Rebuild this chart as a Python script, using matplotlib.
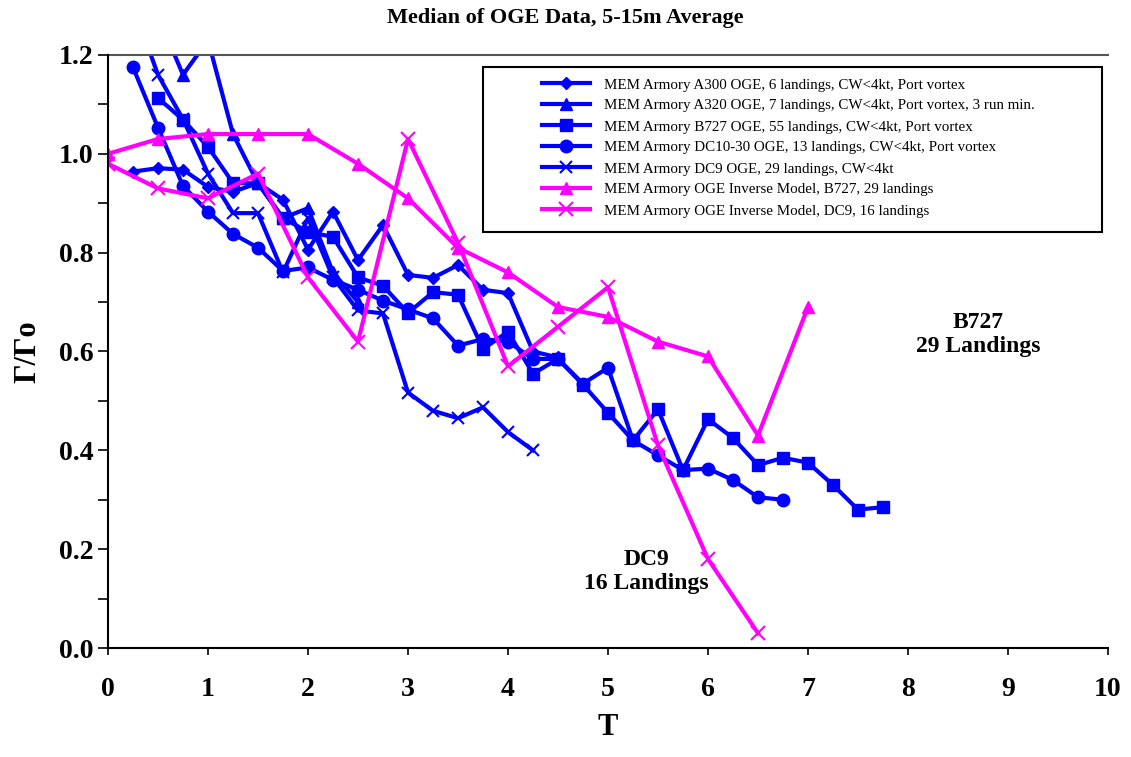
import matplotlib
matplotlib.use("Agg")
import matplotlib.pyplot as plt
from matplotlib.ticker import MultipleLocator
from matplotlib.patches import Rectangle

plt.rcParams['font.family'] = ['Liberation Serif', 'DejaVu Serif']

a300_x = [0.25,0.5,0.75,1.0,1.25,1.5,1.75,2.0,2.25,2.5,2.75,3.0,3.25,3.5,3.75,4.0,4.25,4.5]
a300_y = [0.964,0.971,0.968,0.933,0.923,0.941,0.907,0.806,0.883,0.785,0.856,0.755,0.749,0.775,0.725,0.718,0.60,0.588]
a320_x = [0.25,0.5,0.75,1.0,1.25,1.5,1.75,2.0,2.25,2.5]
a320_y = [1.35,1.28,1.16,1.23,1.04,0.94,0.87,0.89,0.76,0.70]
b727_x = [0.5,0.75,1.0,1.25,1.5,1.75,2.0,2.25,2.5,2.75,3.0,3.25,3.5,3.75,4.0,4.25,4.5,4.75,5.0,5.25,5.5,5.75,6.0,6.25,6.5,6.75,7.0,7.25,7.5,7.75]
b727_y = [1.113,1.069,1.014,0.941,0.94,0.870,0.842,0.832,0.75,0.733,0.678,0.72,0.715,0.605,0.64,0.555,0.585,0.533,0.476,0.42,0.483,0.36,0.463,0.425,0.37,0.385,0.375,0.33,0.28,0.285]
dc10_x = [0.25,0.5,0.75,1.0,1.25,1.5,1.75,2.0,2.25,2.5,2.75,3.0,3.25,3.5,3.75,4.0,4.25,4.5,4.75,5.0,5.25,5.5,5.75,6.0,6.25,6.5,6.75]
dc10_y = [1.175,1.053,0.935,0.883,0.838,0.81,0.763,0.77,0.745,0.725,0.703,0.685,0.667,0.612,0.625,0.62,0.585,0.585,0.535,0.567,0.42,0.39,0.36,0.363,0.34,0.305,0.30]
dc9_x = [0.25,0.5,0.75,1.0,1.25,1.5,1.75,2.0,2.25,2.5,2.75,3.0,3.25,3.5,3.75,4.0,4.25]
dc9_y = [1.3,1.16,1.07,0.96,0.88,0.88,0.76,0.87,0.75,0.683,0.677,0.517,0.48,0.465,0.487,0.437,0.40]
invb_x = [0,0.5,1.0,1.5,2.0,2.5,3.0,3.5,4.0,4.5,5.0,5.5,6.0,6.5,7.0]
invb_y = [1.0,1.03,1.04,1.04,1.04,0.98,0.91,0.81,0.76,0.69,0.67,0.62,0.59,0.43,0.69]
invd_x = [0,0.5,1.0,1.5,2.0,2.5,3.0,3.5,4.0,4.5,5.0,5.5,6.0,6.5]
invd_y = [0.98,0.93,0.91,0.96,0.75,0.62,1.03,0.82,0.57,0.65,0.73,0.41,0.18,0.03]

fig = plt.figure(figsize=(11.31, 7.57), dpi=100)
ax = fig.add_axes([108/1131, 1-648/757, 1000/1131, 593/757])
B = '#0000ff'; M = '#ff00ff'
ax.plot(a300_x, a300_y, color=B, lw=3, marker='D', ms=6, label='MEM Armory A300 OGE, 6 landings, CW<4kt, Port vortex')
ax.plot(a320_x, a320_y, color=B, lw=3, marker='^', ms=8, label='MEM Armory A320 OGE, 7 landings, CW<4kt, Port vortex, 3 run min.')
ax.plot(b727_x, b727_y, color=B, lw=3, marker='s', ms=9, label='MEM Armory B727 OGE, 55 landings, CW<4kt, Port vortex')
ax.plot(dc10_x, dc10_y, color=B, lw=3, marker='o', ms=9, label='MEM Armory DC10-30 OGE, 13 landings, CW<4kt, Port vortex')
ax.plot(dc9_x, dc9_y, color=B, lw=3, marker='x', ms=9, mew=1.5, label='MEM Armory DC9 OGE, 29 landings, CW<4kt')
ax.plot(invb_x, invb_y, color=M, lw=3, marker='^', ms=9, label='MEM Armory OGE Inverse Model, B727, 29 landings')
ax.plot(invd_x, invd_y, color=M, lw=3, marker='x', ms=10, mew=1.5, label='MEM Armory OGE Inverse Model, DC9, 16 landings')

ax.set_xlim(0, 10); ax.set_ylim(0, 1.2)
ax.xaxis.set_major_locator(MultipleLocator(1))
ax.yaxis.set_major_locator(MultipleLocator(0.2))
ax.yaxis.set_minor_locator(MultipleLocator(0.1))
ax.tick_params(axis='both', which='both', direction='out', width=1.2)
ax.tick_params(axis='y', which='major', length=7, labelsize=20)
ax.tick_params(axis='y', which='minor', length=7)
ax.tick_params(axis='x', length=5, labelsize=20, pad=16)
ax.set_yticklabels([f'{v:.1f}' for v in ax.get_yticks()], fontweight='bold')
ax.set_xticklabels([str(int(v)) for v in ax.get_xticks()], fontweight='bold')
for s in ['top', 'right']:
    ax.spines[s].set_visible(False)
for s in ['left', 'bottom']:
    ax.spines[s].set_linewidth(1.5)
ax.axhline(1.2, color='#555555', lw=1.5, clip_on=False)
ax.set_xlabel('T', fontsize=22, fontweight='bold', labelpad=8)
ax.set_ylabel('Γ/Γo', fontsize=22, fontweight='bold', labelpad=12)
fig.text(0.5, 1-18/757, 'Median of OGE Data, 5-15m Average', ha='center', va='center', fontsize=16, fontweight='bold')
ax.text(8.7, 0.635, 'B727\n29 Landings', ha='center', va='center', fontsize=17, fontweight='bold')
ax.text(5.38, 0.155, 'DC9\n16 Landings', ha='center', va='center', fontsize=17, fontweight='bold')

ax.add_patch(Rectangle(((483-108)/1000, (648-232)/593), (1102-483)/1000, (232-67)/593,
                       transform=ax.transAxes, fill=True, facecolor='white', edgecolor='black', lw=1.5, zorder=4))
leg = ax.legend(loc='upper left', bbox_to_anchor=((530-108)/1000, 1-(66-55)/593), fontsize=10.8, frameon=False,
                handlelength=3.2, handletextpad=0.9, borderpad=0.3, labelspacing=0.5)
leg.set_zorder(5)
fig.savefig('out.png', dpi=100)
